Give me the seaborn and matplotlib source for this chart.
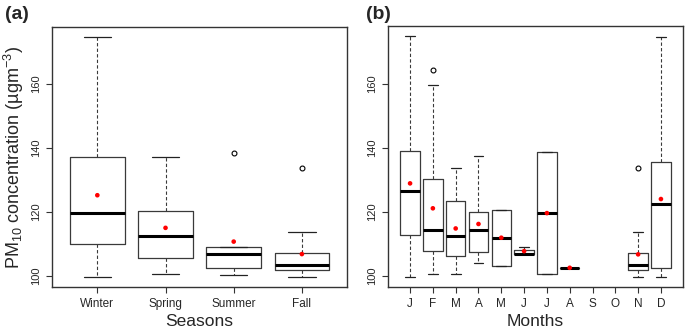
import matplotlib
matplotlib.use('Agg')
import matplotlib.pyplot as plt
import seaborn as sns

# ---------- data ----------
seasons = ['Winter', 'Spring', 'Summer', 'Fall']
s_whislo = [99.6, 100.6, 100.2, 99.5]
s_q1 = [109.8, 105.6, 102.5, 101.8]
s_med = [119.4, 112.4, 106.7, 103.2]
s_q3 = [136.9, 120.1, 108.9, 107.0]
s_whishi = [174.6, 137.2, 108.9, 113.5]
s_fliers = [[], [], [138.4], [133.7]]
s_mean = [125.1, 114.9, 110.6, 106.7]

months = ['J', 'F', 'M', 'A', 'M', 'J', 'J', 'A', 'S', 'O', 'N', 'D']
# None = no data for that month
m_whislo = [99.7, 100.5, 100.7, 104.1, 103.2, 106.7, 100.4, 102.5, None, None, 99.6, 99.7]
m_q1 = [112.6, 107.6, 106.1, 107.4, 103.2, 106.7, 100.4, 102.5, None, None, 101.9, 102.5]
m_med = [126.4, 114.3, 112.5, 114.3, 111.9, 106.8, 119.6, 102.5, None, None, 103.3, 122.5]
m_q3 = [139.1, 130.2, 123.5, 120.0, 120.5, 108.1, 138.6, 102.5, None, None, 107.2, 135.7]
m_whishi = [175.1, 159.8, 133.7, 137.5, 120.5, 108.9, 138.6, 102.5, None, None, 113.7, 174.7]
m_fliers = [[], [164.5], [], [], [], [], [], [], [], [], [133.8], []]
m_mean = [128.9, 121.1, 114.8, 116.2, 111.9, 107.7, 119.6, 102.5, None, None, 106.7, 124.0]

sns.set_style('ticks')
plt.rcParams['font.family'] = ['Liberation Sans', 'DejaVu Sans']
plt.rcParams['mathtext.fontset'] = 'custom'
plt.rcParams['mathtext.rm'] = 'Liberation Sans'
plt.rcParams['mathtext.it'] = 'Liberation Sans:italic'

fig = plt.figure(figsize=(6.85, 3.33), dpi=100)
ax1 = fig.add_axes([0.0764, 0.139, 0.430, 0.779])
ax2 = fig.add_axes([0.566, 0.139, 0.4315, 0.783])


def draw_panel(ax, labels, whislo, q1, med, q3, whishi, fliers, means, width):
    stats, pos = [], []
    for i in range(len(labels)):
        if med[i] is None:
            continue
        stats.append(dict(whislo=whislo[i], q1=q1[i], med=med[i], q3=q3[i],
                          whishi=whishi[i], fliers=fliers[i]))
        pos.append(i)
    ax.bxp(stats, positions=pos, widths=width, showfliers=True,
           boxprops=dict(color='#3a3a3a', linewidth=0.9),
           whiskerprops=dict(color='#3a3a3a', linewidth=0.8, linestyle=(0, (3, 2))),
           capprops=dict(color='#222222', linewidth=0.9),
           medianprops=dict(color='black', linewidth=2.2, solid_capstyle='butt'),
           flierprops=dict(marker='o', markersize=3.5, markerfacecolor='none',
                           markeredgecolor='black', markeredgewidth=0.8))
    mx = [i for i in range(len(labels)) if means[i] is not None]
    my = [means[i] for i in mx]
    sns.scatterplot(x=mx, y=my, color='red', s=11, edgecolor='none', ax=ax, zorder=5)
    n = len(labels)
    ax.set_xlim(-0.5 - 0.04 * n, n - 0.5 + 0.04 * n)
    ax.set_xticks(range(n))
    ax.set_xticklabels(labels, fontsize=8.5)
    lo = min(v for v in whislo if v is not None)
    hi = max([v for v in whishi if v is not None] + [f for fl in fliers for f in fl])
    pad = (hi - lo) * 0.04
    ax.set_ylim(lo - pad, hi + pad)
    ax.set_yticks([100, 120, 140, 160])
    ax.set_yticklabels(['100', '120', '140', '160'], fontsize=8, rotation=90, va='center')
    ax.tick_params(length=4, width=0.8, color='#333333', pad=4)
    for sp in ax.spines.values():
        sp.set_visible(True)
        sp.set_linewidth(1.0)
        sp.set_color('#333333')


draw_panel(ax1, seasons, s_whislo, s_q1, s_med, s_q3, s_whishi, s_fliers, s_mean, 0.8)
draw_panel(ax2, months, m_whislo, m_q1, m_med, m_q3, m_whishi, m_fliers, m_mean, 0.85)

ax1.set_xlabel('Seasons', fontsize=12.5, labelpad=3)
ax2.set_xlabel('Months', fontsize=12.5, labelpad=3)
ax1.set_ylabel('PM$_{10}$ concentration (\u00b5gm$^{-3}$)', fontsize=13, labelpad=4)

fig.text(0.008, 0.955, '(a)', fontsize=14, fontweight='bold', va='center')
fig.text(0.535, 0.955, '(b)', fontsize=14, fontweight='bold', va='center')

fig.savefig('out.png', dpi=100)
